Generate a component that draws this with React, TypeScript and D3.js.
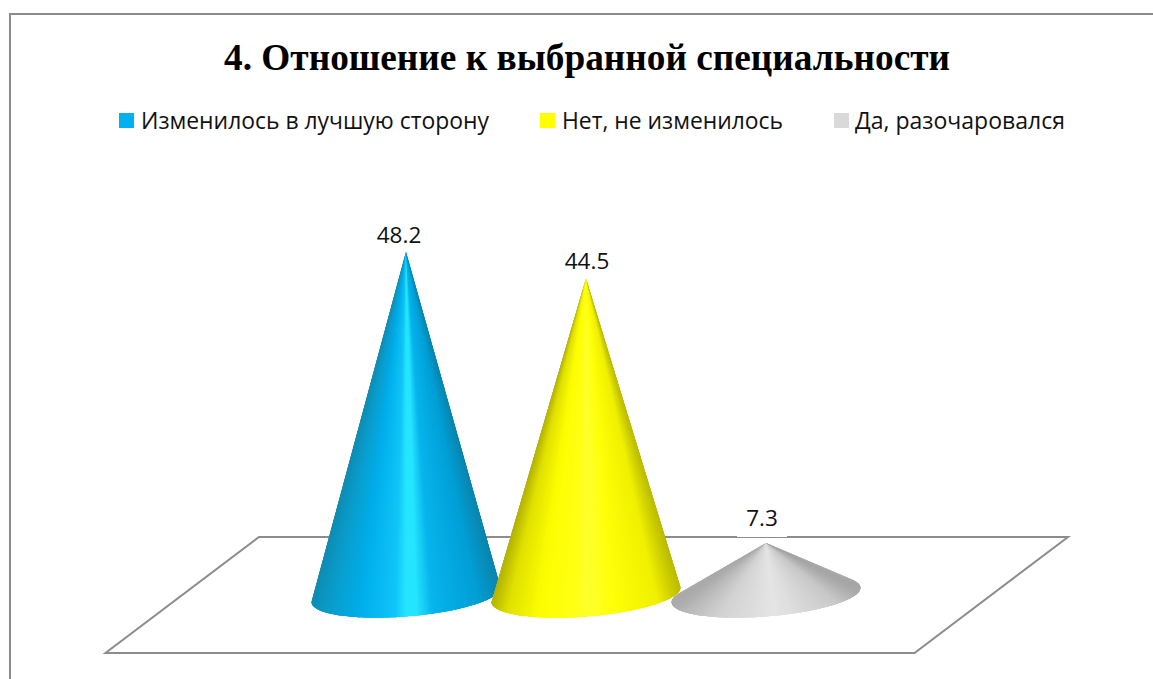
import * as d3 from 'd3';
import React from 'react';

const title = '4. Отношение к выбранной специальности';
const seriesNames = ['Изменилось в лучшую сторону', 'Нет, не изменилось', 'Да, разочаровался'];
const seriesValues = [48.2, 44.5, 7.3];
const swatchColors = ['#00b0f0', '#ffff00', '#d9d9d9'];

// shading across the cone, left edge to right edge
const shadeStops = [0, 0.08, 0.25, 0.44, 0.5, 0.555, 0.64, 0.88, 1];
const blueShade = ['#0d8db5', '#0a9bc8', '#00aeea', '#10c4f8', '#25e5ff', '#25e5ff', '#08b4ec', '#009fd6', '#0a86ae'];
const yellowShade = ['#b4b400', '#e0e000', '#fdfd00', '#ffff14', '#ffff2c', '#ffff24', '#ffff08', '#f0f000', '#bcbc00'];
const grayShade = ['#aaaaaa', '#bababa', '#d2d2d2', '#dedede', '#e2e2e2', '#e4e4e4', '#dedede', '#c8c8c8', '#a6a6a6'];
const shades = [blueShade, yellowShade, grayShade];

const width = 1153;
const height = 679;

// floor of the 3D plot
const floorLeft = 105.5;
const floorRight = 914.5;
const floorFront = 653;
const floorBack = 537;
const floorSkew = 153.5;
const baseY = (floorFront + floorBack) / 2;

const x = d3.scaleBand<string>()
  .domain(seriesNames)
  .range([floorLeft + floorSkew / 2 - 0.75, floorRight + floorSkew / 2 - 0.75])
  .paddingInner(0)
  .paddingOuter(0.747);

const y = d3.scaleLinear().domain([0, 50]).range([baseY, 239.25]);

const radiusX = 89.5;
const depthK = 0.195;

const conePieces = (cx: number, value: number, colors: string[]) => {
  const apex: [number, number] = [cx, y(value)];
  const rim = d3.range(0, 2 * Math.PI, Math.PI / 120).map((t): [number, number] => [
    cx + radiusX * Math.cos(t) + depthK * floorSkew * Math.sin(t),
    baseY - depthK * (floorFront - floorBack) * Math.sin(t),
  ]);
  const hull = d3.polygonHull([apex, ...rim]) || [];
  const start = hull.findIndex((p) => p[0] === apex[0] && p[1] === apex[1]);
  const front = [...hull.slice(start + 1), ...hull.slice(0, start)];
  const left = d3.min(rim, (p) => p[0]) as number;
  const right = d3.max(rim, (p) => p[0]) as number;
  const shade = d3.scaleLinear<string>().domain(shadeStops).range(colors);
  const line = d3.line();
  // each wedge runs a few rim points past its end, so the next one paints over the seam
  return front.slice(0, -1).map((a, i) => {
    const b = front[i + 1];
    const arc = front.slice(i, i + 5);
    return {
      d: line([apex, ...arc]) + 'Z',
      color: shade(((a[0] + b[0]) / 2 - left) / (right - left)),
    };
  });
};

const drawOrder = [0, 2, 1];

// legend and label placement
const legendSwatchX = [119, 540, 834];
const legendTextX = [141, 562, 855];
const legendTextW = [348, 221, 210];
const labelX = [399, 587, 762];
const labelBaseline = [243, 269, 526];

export default function App() {
  const floor = d3.line()([
    [floorLeft, floorFront],
    [floorRight, floorFront],
    [floorRight + floorSkew, floorBack],
    [floorLeft + floorSkew, floorBack],
  ]) + 'Z';

  return (
    <svg width={width} height={height} style={{ position: 'absolute', left: 0, top: 0, background: '#fff' }}>
      <path d={`M10,${height}V14H${width}`} fill="none" stroke="#8c8c8c" strokeWidth={2} />
      <text x={587} y={69.5} textAnchor="middle" fontFamily="'Liberation Serif', serif" fontWeight="bold" fontSize={38} textLength={726} lengthAdjust="spacingAndGlyphs" fill="#000">
        {title}
      </text>
      {seriesNames.map((name, i) => (
        <g key={name}>
          <rect x={legendSwatchX[i]} y={113} width={15} height={15} fill={swatchColors[i]} />
          <text x={legendTextX[i]} y={129} fontFamily="'Open Sans', sans-serif" fontSize={23.5} textLength={legendTextW[i]} lengthAdjust="spacingAndGlyphs" fill="#111">
            {name}
          </text>
        </g>
      ))}
      <path d={floor} fill="none" stroke="#8c8c8c" strokeWidth={2} />
      {seriesNames.map((name, i) => (
        <rect key={name} x={labelX[i] - 25} y={labelBaseline[i] - 22} width={50} height={33} fill="#fff" />
      ))}
      {drawOrder.map((i) => {
        const cx = (x(seriesNames[i]) as number) + x.bandwidth() / 2;
        return (
          <g key={seriesNames[i]}>
            {conePieces(cx, seriesValues[i], shades[i]).map((p, j) => (
              <path key={j} d={p.d} fill={p.color} />
            ))}
          </g>
        );
      })}
      {seriesNames.map((name, i) => (
        <text key={name} x={labelX[i]} y={labelBaseline[i]} textAnchor="middle" fontFamily="'Open Sans', sans-serif" fontSize={22.5} fill="#111">
          {d3.format('.1f')(seriesValues[i])}
        </text>
      ))}
    </svg>
  );
}
